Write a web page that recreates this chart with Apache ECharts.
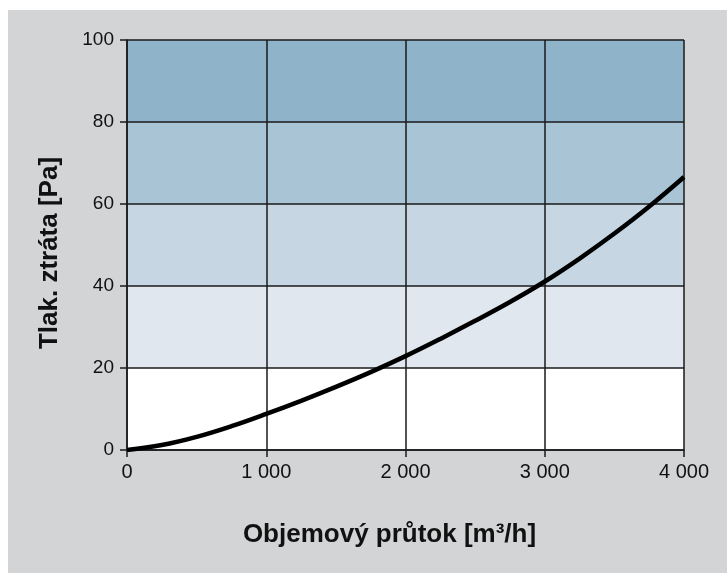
<!DOCTYPE html>
<html><head><meta charset="utf-8">
<script src="https://cdn.jsdelivr.net/npm/echarts@6/dist/echarts.min.js"></script>
<style>html,body{margin:0;padding:0;background:#fff}#c{width:727px;height:573px}</style>
</head><body><div id="c"></div>
<script>
const flowQ = [0, 250, 500, 750, 1000, 1250, 1500, 1750, 2000, 2250, 2500, 2750, 3000, 3250, 3500, 3750, 4000];
const pressureDrop = [0, 1.2, 3.2, 5.8, 8.8, 12.0, 15.4, 19.0, 22.9, 27.1, 31.5, 36.1, 41.1, 46.7, 52.8, 59.4, 66.6];
const bandEdges = [0, 20, 40, 60, 80, 100];
const bandColors = ['#ffffff', '#e0e7ee', '#c6d6e2', '#a9c4d5', '#8fb3c9'];

const chart = echarts.init(document.getElementById('c'));
const font = 'Liberation Sans, Arial, sans-serif';
const areas = bandColors.map((c, i) => [
  { yAxis: bandEdges[i], itemStyle: { color: c } },
  { yAxis: bandEdges[i + 1] }
]);
const axisCommon = {
  z: 3,
  axisLine: { show: true, onZero: false, lineStyle: { color: '#1a1a1a', width: 1.5 } },
  axisTick: { show: true, length: 7, lineStyle: { color: '#1a1a1a', width: 1.5 } },
  splitLine: { show: true, lineStyle: { color: '#1a1a1a', width: 1.5 } }
};
chart.setOption({
  backgroundColor: '#ffffff',
  animation: false,
  graphic: [{ type: 'rect', z: -10, shape: { x: 8, y: 10, width: 719, height: 563 }, style: { fill: '#d3d4d6' } }],
  grid: { left: 127, right: 43, top: 40, bottom: 123 },
  xAxis: Object.assign({}, axisCommon, {
    type: 'value', min: 0, max: 4000, interval: 1000,
    name: 'Objemový průtok [m³/h]', nameLocation: 'middle', nameGap: 72,
    nameTextStyle: { fontFamily: font, fontSize: 26, fontWeight: 'bold', color: '#111', padding: [0, 32, 0, 0] },
    axisLabel: { fontFamily: font, fontSize: 20, color: '#111', margin: 12,
      formatter: v => v >= 1000 ? String(v).replace(/(\d)(\d{3})$/, '$1 $2') : String(v) }
  }),
  yAxis: Object.assign({}, axisCommon, {
    type: 'value', min: 0, max: 100, interval: 20,
    name: 'Tlak. ztráta [Pa]', nameLocation: 'middle', nameGap: 64, nameRotate: 90,
    nameTextStyle: { fontFamily: font, fontSize: 26, fontWeight: 'bold', color: '#111', padding: [0, 16, 0, 0] },
    axisLabel: { fontFamily: font, fontSize: 19, color: '#111', margin: 13 }
  }),
  series: [{
    type: 'line', symbol: 'none', silent: true, z: 1,
    data: [[0, 0]], lineStyle: { opacity: 0 },
    markArea: { silent: true, data: areas }
  }, {
    type: 'line', smooth: 0.4, symbol: 'none', z: 5,
    data: flowQ.map((q, i) => [q, pressureDrop[i]]),
    lineStyle: { color: '#000', width: 4.5 }
  }]
});
</script></body></html>
